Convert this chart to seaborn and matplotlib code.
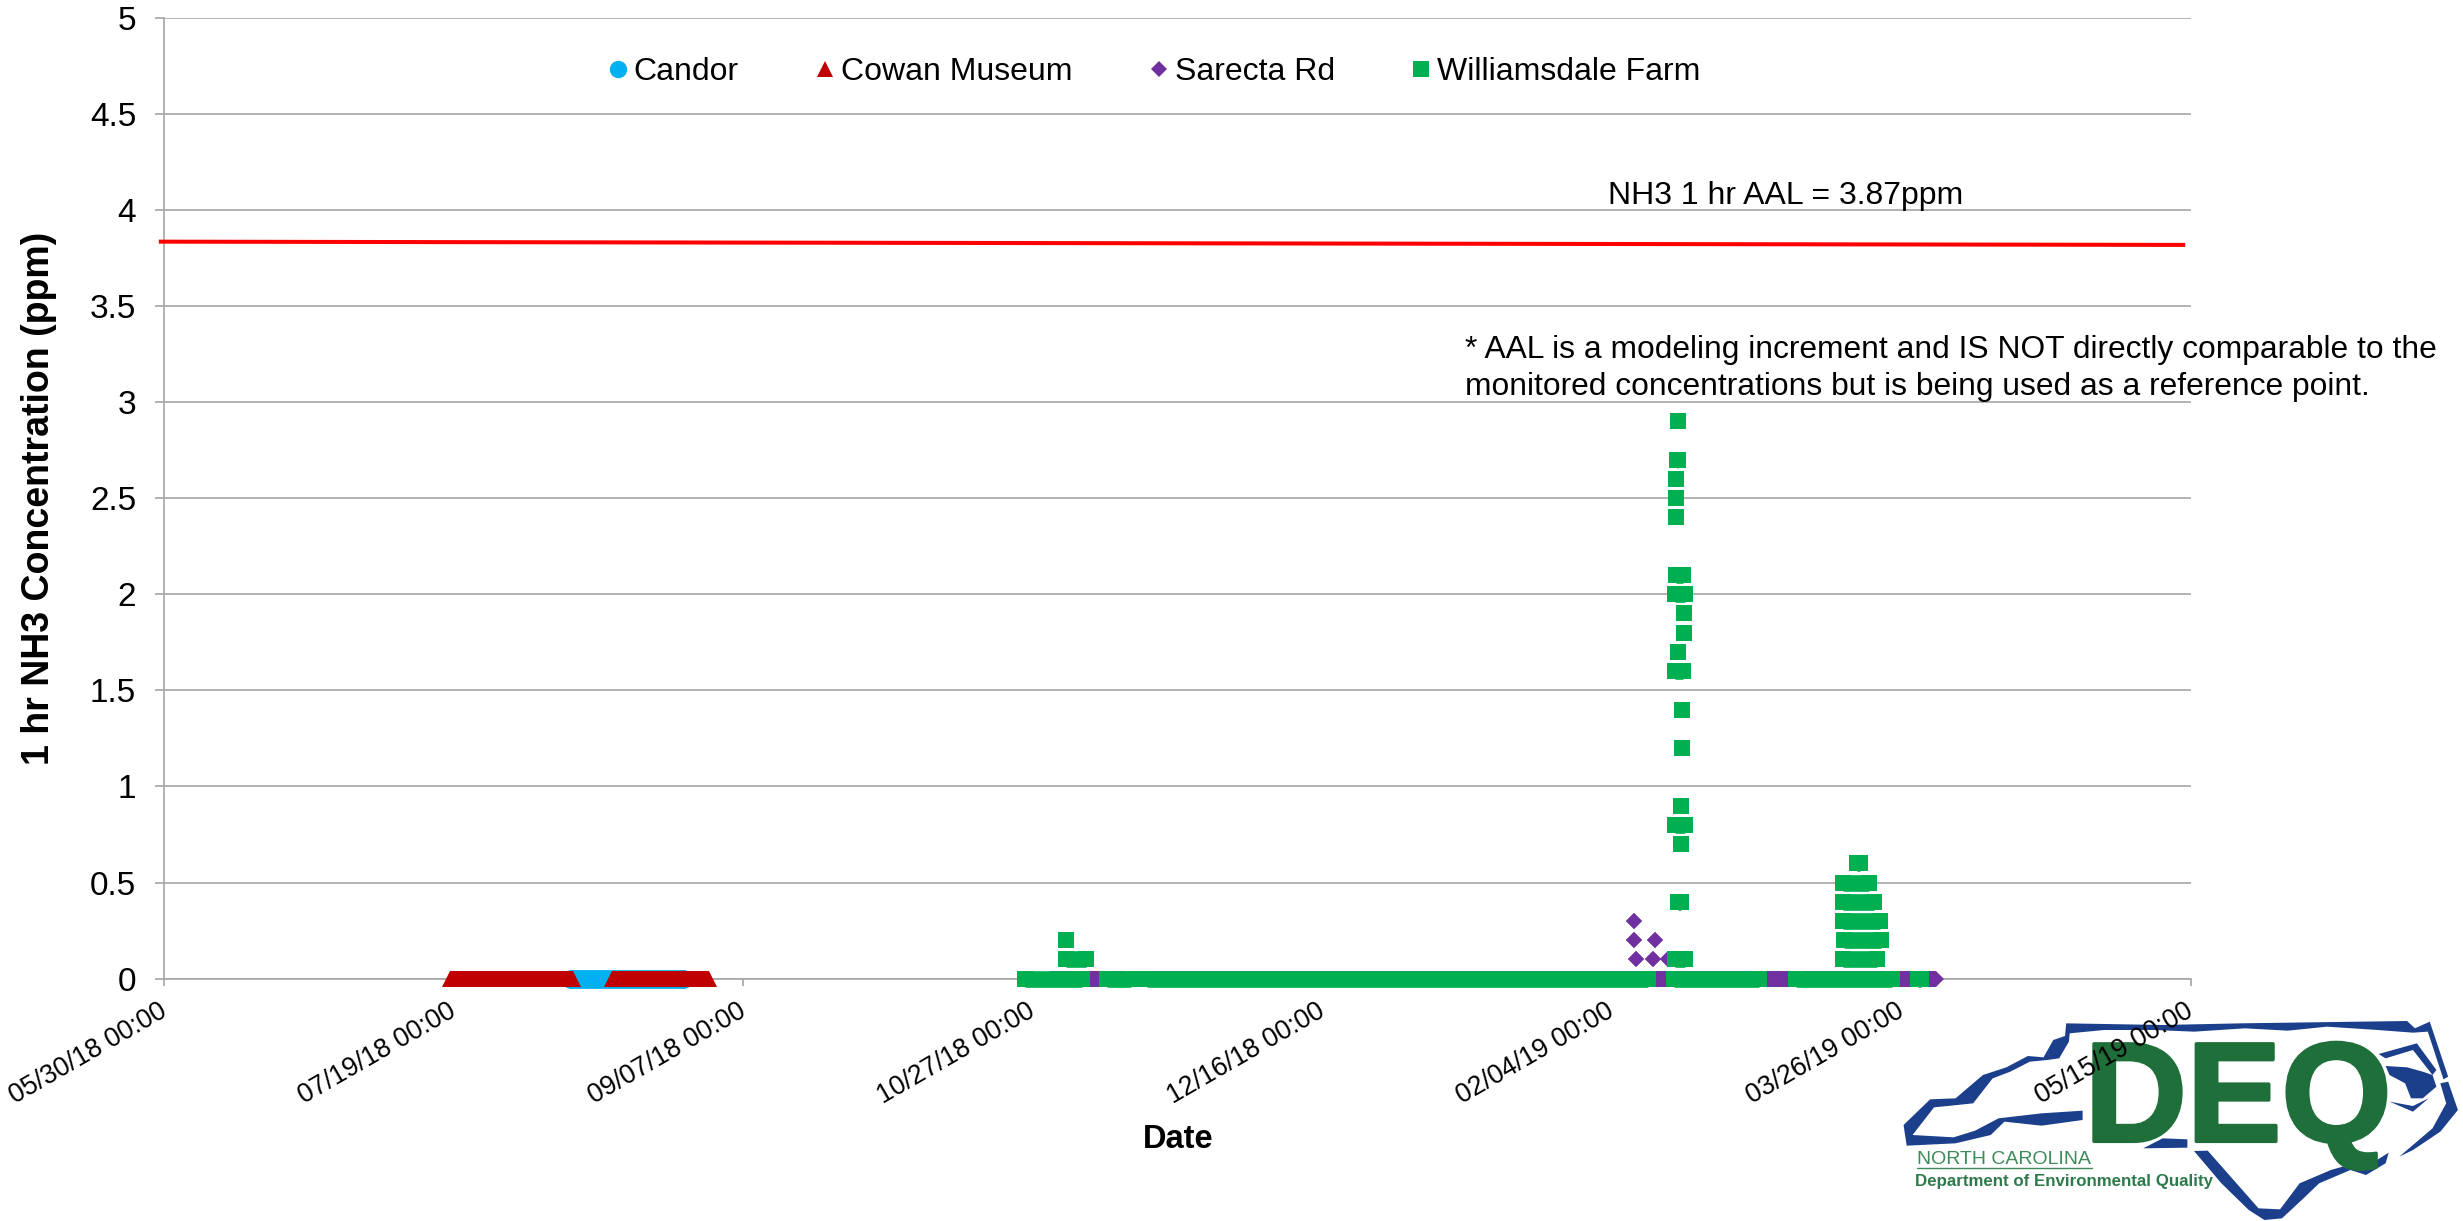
import matplotlib
matplotlib.use("Agg")

import pandas as pd
import seaborn as sns
import matplotlib.pyplot as plt
import matplotlib.patheffects as pe
from matplotlib.lines import Line2D
from matplotlib.patches import Polygon
from matplotlib.transforms import ScaledTranslation

# x values are Excel date serials, same as the source workbook (43250 = 05/30/18)
x_ticks = [43250, 43300, 43350, 43400, 43450, 43500, 43550, 43600]
x_labels = ["05/30/18 00:00", "07/19/18 00:00", "09/07/18 00:00", "10/27/18 00:00",
            "12/16/18 00:00", "02/04/19 00:00", "03/26/19 00:00", "05/15/19 00:00"]
y_ticks = [0, 0.5, 1, 1.5, 2, 2.5, 3, 3.5, 4, 4.5, 5]
y_labels = ["0", "0.5", "1", "1.5", "2", "2.5", "3", "3.5", "4", "4.5", "5"]

# each site is a list of runs: first day, last day, ppm
candor_start = [43320.2]
candor_end = [43339.6]
candor_ppm = [0]

cowan_start = [43299.4, 43327.4]
cowan_end = [43320.6, 43344.1]
cowan_ppm = [0, 0]

sarecta_start = [43403.0, 43507.18, 43503.90, 43507.47, 43503.90, 43504.19, 43509.77]
sarecta_end = [43556.0, 43507.18, 43503.90, 43507.47, 43503.90, 43504.19, 43509.77]
sarecta_ppm = [0, 0.1, 0.3, 0.2, 0.2, 0.1, 0.1]

williamsdale_start = [43398.7, 43412.8, 43419.7, 43510.7, 43531.8, 43552.9,
                      43405.8, 43405.8,
                      43511.39, 43511.21, 43511.16, 43511.10, 43511.04, 43511.04, 43510.93,
                      43512.54, 43512.48, 43511.44, 43510.87, 43512.13, 43512.08,
                      43511.96, 43510.87, 43511.96, 43511.50, 43510.87,
                      43542.41, 43539.94, 43539.88, 43539.88, 43540.05, 43539.88]
williamsdale_end = [43408.5, 43416.9, 43506.3, 43525.4, 43548.4, 43553.4,
                    43405.8, 43409.2,
                    43511.39, 43511.39, 43511.16, 43511.10, 43511.04, 43512.36, 43512.65,
                    43512.54, 43512.48, 43511.44, 43512.25, 43512.13, 43512.08,
                    43511.96, 43512.71, 43511.96, 43511.96, 43512.71,
                    43542.93, 43544.48, 43545.23, 43546.38, 43546.44, 43545.86]
williamsdale_ppm = [0, 0, 0, 0, 0, 0,
                    0.2, 0.1,
                    2.9, 2.7, 2.6, 2.5, 2.4, 2.1, 2.0,
                    1.9, 1.8, 1.7, 1.6, 1.4, 1.2,
                    0.9, 0.8, 0.7, 0.4, 0.1,
                    0.6, 0.5, 0.4, 0.3, 0.2, 0.1]

aal_days = [43249.1, 43599.0]
aal_ppm = [3.834, 3.817]

BLUE = "#00b0f0"
RED = "#c00000"
PURPLE = "#7030a0"
GREEN = "#00b050"
GRID = "#a6a6a6"

sns.set_theme(style="white")
plt.rcParams["font.family"] = ["Liberation Sans", "DejaVu Sans"]
plt.rcParams["text.color"] = "black"
plt.rcParams["axes.labelcolor"] = "black"

W, H = 2463, 1221
fig = plt.figure(figsize=(W / 100, H / 100), dpi=100, facecolor="white")


def draw_site(ax, starts, ends, ppm, color, marker, size, band):
    rows = []
    for i in range(len(ppm)):
        rows.append({"run": i, "day": starts[i], "ppm": ppm[i]})
        rows.append({"run": i, "day": ends[i], "ppm": ppm[i]})
    df = pd.DataFrame(rows)
    sns.lineplot(data=df, x="day", y="ppm", units="run", estimator=None, sort=False,
                 color=color, linewidth=band, solid_capstyle="butt", marker=marker,
                 markersize=size, markeredgewidth=0, legend=False, ax=ax,
                 clip_on=False, zorder=3)


# logo first so the last tick label lands on top of it
logo = fig.add_axes([1850 / W, 0, 613 / W, 241 / H])
logo.set_xlim(0, 1568)
logo.set_ylim(723, 0)
logo.axis("off")

state_outline = [(137, 435), (205, 358), (270, 355), (340, 285), (400, 262), (455, 228), (495, 232),
                 (520, 180), (550, 168), (553, 130), (800, 135), (1000, 130), (1425, 123), (1445, 145),
                 (1483, 125), (1530, 290), (1518, 298), (1478, 155), (1440, 158), (1350, 150),
                 (1220, 140), (1120, 152), (1010, 145), (880, 155), (780, 150), (650, 150), (562, 160),
                 (560, 185), (535, 235), (505, 240), (460, 245), (410, 275), (365, 295), (335, 340),
                 (315, 370), (250, 378), (215, 382), (160, 465), (265, 472), (320, 452), (380, 415),
                 (490, 400), (595, 392), (595, 420), (490, 437), (395, 425), (360, 465), (270, 490),
                 (145, 497)]
state_south = [(880, 513), (915, 512), (1045, 685), (1100, 688), (1150, 610), (1230, 570), (1290, 550),
               (1320, 560), (1378, 518), (1370, 550), (1320, 585), (1280, 570), (1200, 610),
               (1160, 655), (1105, 715), (1060, 720), (1020, 690), (950, 610)]
state_bits = [[(750, 505), (800, 475), (863, 478), (863, 503)],
              [(1352, 222), (1450, 190), (1500, 270), (1490, 285), (1440, 210), (1370, 235)],
              [(1370, 258), (1425, 262), (1465, 275), (1490, 285), (1500, 320), (1465, 355),
               (1435, 355), (1420, 310), (1380, 285)],
              [(1380, 365), (1440, 378), (1480, 355), (1440, 395)],
              [(1405, 530), (1490, 445), (1525, 370), (1510, 310), (1530, 305), (1555, 390),
               (1510, 455), (1440, 510)]]
for pts in [state_outline, state_south] + state_bits:
    logo.add_patch(Polygon(pts, closed=True, facecolor="#1c3f8c", edgecolor="none"))

deq = logo.text(600, 484, "DEQ", fontweight="bold", fontsize=102, color="#1f6f3a",
                ha="left", va="baseline")
deq.set_path_effects([pe.withStroke(linewidth=2.5, foreground="#1f6f3a")])
logo.text(172, 553, "NORTH CAROLINA", fontsize=14, color="#3f8a5a", ha="left", va="baseline")
logo.plot([172, 618], [563, 563], color="#3f8a5a", linewidth=1)
logo.text(165, 618, "Department of Environmental Quality", fontweight="bold",
          fontsize=12.2, color="#2f7a4c", ha="left", va="baseline")

# main chart
ax = fig.add_axes([164 / W, 1 - 978.7 / H, 2027 / W, 961.2 / H], facecolor="none", zorder=2)

draw_site(ax, candor_start, candor_end, candor_ppm, BLUE, "o", 13.7, 13.5)
draw_site(ax, cowan_start, cowan_end, cowan_ppm, RED, "^", 11.5, 11.5)
draw_site(ax, sarecta_start, sarecta_end, sarecta_ppm, PURPLE, "D", 8, 11.5)
draw_site(ax, williamsdale_start, williamsdale_end, williamsdale_ppm, GREEN, "s", 11.5, 12)

sns.lineplot(x=aal_days, y=aal_ppm, color="#ff0000", linewidth=2.9, solid_capstyle="butt",
             ax=ax, legend=False, clip_on=False, zorder=4)

ax.set_xlim(x_ticks[0], x_ticks[-1])
ax.set_ylim(0, 5)
ax.set_yticks(y_ticks, y_labels)
ax.set_xticks(x_ticks, x_labels)
ax.yaxis.grid(True, color=GRID, linewidth=1.2)
ax.xaxis.grid(False)
ax.set_axisbelow(True)
for side in ["top", "right"]:
    ax.spines[side].set_visible(False)
for side in ["left", "bottom"]:
    ax.spines[side].set_color(GRID)
    ax.spines[side].set_linewidth(1.2)
ax.tick_params(axis="y", length=6.5, width=1.2, color=GRID, labelsize=24, labelcolor="black", pad=13.5, left=True)
ax.tick_params(axis="x", length=5, width=1.2, color=GRID, labelsize=19.2, labelcolor="black", pad=9, bottom=True)
shift = ScaledTranslation(-6 / 100, 0, fig.dpi_scale_trans)
for lab in ax.get_xticklabels():
    lab.set_rotation(30)
    lab.set_ha("right")
    lab.set_rotation_mode("anchor")
    lab.set_transform(lab.get_transform() + shift)

ax.set_ylabel("1 hr NH3 Concentration (ppm)", fontsize=27, fontweight="bold", labelpad=23.5)
ax.set_xlabel("Date", fontsize=23.5, fontweight="bold")
ax.xaxis.set_label_coords(0.5004, -0.151)

ax.text(43499.4, 4.147, "NH3 1 hr AAL = 3.87ppm", fontsize=23, ha="left", va="top", clip_on=False)
ax.text(43474.6, 3.35,
        "* AAL is a modeling increment and IS NOT directly comparable to the\n"
        "monitored concentrations but is being used as a reference point.",
        fontsize=22.9, ha="left", va="top", linespacing=1.3, clip_on=False)

handles = [
    Line2D([], [], linestyle="none", marker="o", color=BLUE, markersize=12.5, markeredgewidth=0),
    Line2D([], [], linestyle="none", marker="^", color=RED, markersize=11.5, markeredgewidth=0),
    Line2D([], [], linestyle="none", marker="D", color=PURPLE, markersize=8, markeredgewidth=0),
    Line2D([], [], linestyle="none", marker="s", color=GREEN, markersize=11, markeredgewidth=0),
]
ax.legend(handles, ["Candor", "Cowan Museum", "Sarecta Rd", "Williamsdale Farm"],
          ncol=4, frameon=False, fontsize=23, loc="center", bbox_to_anchor=(1155 / W, 1 - 72 / H),
          bbox_transform=fig.transFigure, handlelength=0.5, handletextpad=0.25,
          columnspacing=2.45, borderpad=0, labelcolor="black")

fig.savefig("out.png", dpi=100)
